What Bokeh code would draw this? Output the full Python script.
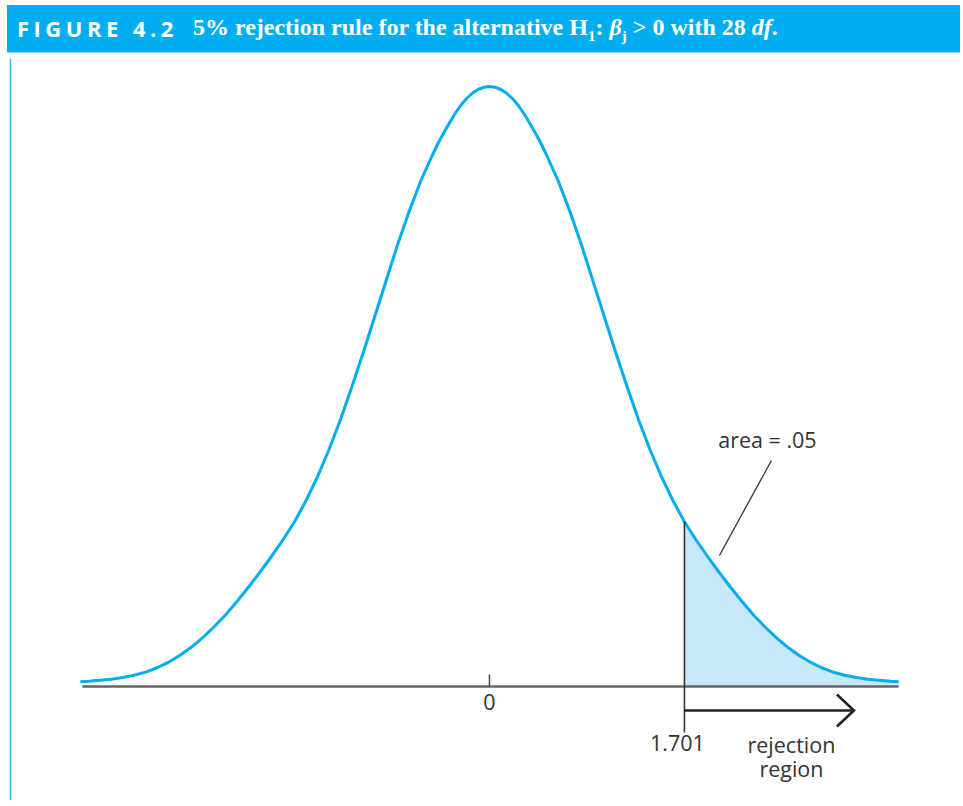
from bokeh.plotting import figure
from bokeh.models import Div, Span
from bokeh.layouts import column
from bokeh.embed import file_html
from bokeh.resources import INLINE
from bokeh.core.properties import value

# ---------------- data ----------------
x_vals = [-3.57, -3.5, -3.4, -3.3, -3.2, -3.1, -3.0, -2.9, -2.8, -2.7, -2.6, -2.5,
          -2.4, -2.3, -2.2, -2.1, -2.0, -1.9, -1.8, -1.7, -1.6, -1.5, -1.4, -1.3,
          -1.2, -1.1, -1.0, -0.9, -0.8, -0.7, -0.6, -0.5, -0.45, -0.4, -0.35, -0.3,
          -0.25, -0.2, -0.15, -0.1, -0.05,
          0.0,
          0.05, 0.1, 0.15, 0.2, 0.25, 0.3, 0.35, 0.4, 0.45, 0.5, 0.6, 0.7, 0.8, 0.9,
          1.0, 1.1, 1.2, 1.3, 1.4, 1.5, 1.6, 1.7, 1.8, 1.9, 2.0, 2.1, 2.2, 2.3, 2.4,
          2.5, 2.6, 2.7, 2.8, 2.9, 3.0, 3.1, 3.2, 3.3, 3.4, 3.5, 3.57]
density = [0.0032, 0.0035, 0.0041, 0.0049, 0.0060, 0.0075, 0.0096, 0.0125, 0.0162, 0.0208, 0.0263, 0.0327,
           0.040, 0.048, 0.057, 0.0665, 0.0765, 0.087, 0.098, 0.110, 0.124, 0.140, 0.158, 0.178,
           0.200, 0.223, 0.247, 0.271, 0.295, 0.317, 0.337, 0.354, 0.362, 0.369, 0.3757, 0.382,
           0.3875, 0.392, 0.3955, 0.398, 0.3995,
           0.400,
           0.3995, 0.398, 0.3955, 0.392, 0.3875, 0.382, 0.3757, 0.369, 0.362, 0.354, 0.337, 0.317, 0.295, 0.271,
           0.247, 0.223, 0.200, 0.178, 0.158, 0.140, 0.124, 0.110, 0.098, 0.087, 0.0765, 0.0665, 0.057, 0.048, 0.040,
           0.0327, 0.0263, 0.0208, 0.0162, 0.0125, 0.0096, 0.0075, 0.0060, 0.0049, 0.0041, 0.0035, 0.0032]

critical_value = 1.701
critical_density = 0.110
arrow_end = 3.18
tick_values = [0.0, critical_value]
tick_labels = ["0", "1.701"]
area_label = "area = .05"
region_label = ["rejection", "region"]

# ---------------- layout constants ----------------
PX_X = 114.6     # pixels per unit on x
PX_Y = 1500.0    # pixels per unit on y
W, H = 955, 742
ZERO_X = 489.0   # pixel of x = 0 inside the plot
ZERO_Y = 628.0   # pixel (from top) of y = 0 inside the plot

BLUE = "#00AEEF"
INK = "#333333"

def dy(px):
    return px / PX_Y

def dx(px):
    return px / PX_X

title_html = (
    '<div style="margin-left:2px;width:943px;height:47px;background:#00AEEF;'
    'border-bottom:1px solid #9edcf6;display:flex;align-items:center;'
    'padding-left:10px;white-space:nowrap;color:white;box-sizing:content-box;">'
    '<span style="font-family:\'Open Sans\';font-weight:bold;font-size:22px;'
    'letter-spacing:4.5px;">FIGURE 4.2</span>'
    '<span style="font-family:\'Liberation Serif\';font-weight:bold;font-size:24px;'
    'margin-left:15px;">5% rejection rule for the alternative H<sub style="font-size:15px;">1</sub>: '
    '<i>&beta;</i><sub style="font-size:15px;">j</sub> &gt; 0 with 28 <i>df</i>.</span>'
    '</div>'
)
title = Div(text=title_html, width=W, height=48)

p = figure(width=W, height=H, output_backend="svg", toolbar_location=None,
           x_range=(-ZERO_X / PX_X, (W - ZERO_X) / PX_X),
           y_range=(-(H - ZERO_Y) / PX_Y, ZERO_Y / PX_Y),
           min_border=0, outline_line_color=None)
p.axis.visible = False
p.grid.visible = False
p.background_fill_color = "white"
p.border_fill_color = "white"

# left frame line
p.add_layout(Span(location=-(ZERO_X - 10) / PX_X, dimension="height",
                  line_color="#2DB8F0", line_width=1.5))

# shaded rejection region
shade_x = [critical_value] + [x for x in x_vals if x > critical_value]
shade_y = [critical_density] + [y for x, y in zip(x_vals, density) if x > critical_value]
p.varea(x=shade_x, y1=[0] * len(shade_x), y2=shade_y, fill_color="#C6E8F8", fill_alpha=1)

# horizontal axis line
p.segment(x0=[x_vals[0] + dx(2)], y0=[0], x1=[x_vals[-1]], y1=[0],
          line_color="#666666", line_width=2.6)

# density curve
p.line(x_vals, density, line_color=BLUE, line_width=3, line_join="round")

# tick at 0
p.segment(x0=[tick_values[0]], y0=[0], x1=[tick_values[0]], y1=[dy(12)],
          line_color="#444444", line_width=1.5)

# vertical line at the critical value
p.segment(x0=[critical_value], y0=[critical_density], x1=[critical_value], y1=[-dy(46)],
          line_color=INK, line_width=1.6)

# rejection-region arrow
ya = -dy(24)
p.segment(x0=[critical_value], y0=[ya], x1=[arrow_end], y1=[ya],
          line_color="#222222", line_width=2.6)
p.line([arrow_end - dx(17), arrow_end, arrow_end - dx(17)],
       [ya + dy(16), ya, ya - dy(16)],
       line_color="#222222", line_width=2.6, line_join="miter")

# leader line for the area label
p.segment(x0=[critical_value + dx(87)], y0=[dy(226)],
          x1=[critical_value + dx(35)], y1=[dy(131)],
          line_color=INK, line_width=1.3)

font = value("Open Sans")
FS = "21.5px"
p.text(x=[tick_values[0]], y=[-dy(15)], text=[tick_labels[0]],
       text_font=font, text_font_size=FS, text_color=INK,
       text_align="center", text_baseline="middle")
p.text(x=[tick_values[1] - dx(7)], y=[-dy(56)], text=[tick_labels[1]],
       text_font=font, text_font_size=FS, text_color=INK,
       text_align="center", text_baseline="middle")
p.text(x=[critical_value + dx(107), critical_value + dx(107)],
       y=[-dy(58), -dy(82)], text=region_label,
       text_font=font, text_font_size=FS, text_color=INK,
       text_align="center", text_baseline="middle")
p.text(x=[critical_value + dx(83)], y=[dy(247)], text=[area_label],
       text_font=font, text_font_size=FS, text_color=INK,
       text_align="center", text_baseline="middle")

layout = column(title, p, spacing=0)
open("out.html", "w").write(file_html(layout, INLINE))
